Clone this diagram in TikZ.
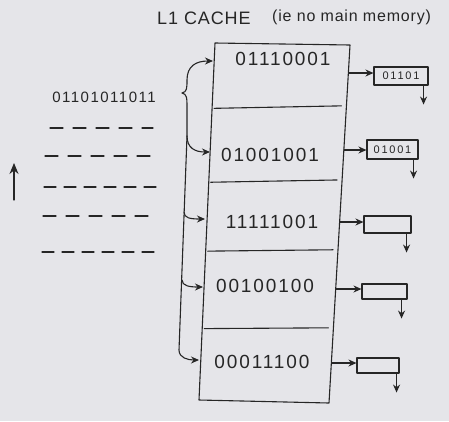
\documentclass[tikz,border=0pt]{standalone}
\usepackage{fontspec}
\setmainfont{Liberation Sans}
\newfontfamily\bits[LetterSpace=10]{Liberation Sans}
\newfontfamily\bitsw[LetterSpace=16]{Liberation Sans}
\newfontfamily\titlefont[LetterSpace=5]{Liberation Sans}
\usetikzlibrary{arrows.meta,calc}
\definecolor{paper}{HTML}{E5E5E9}
\definecolor{ink}{HTML}{262626}
\begin{document}
\begin{tikzpicture}[x=1pt,y=-1pt,
  pen/.style={draw=ink, line width=1.1pt, line cap=round, line join=round},
  tip/.style={-{Stealth[length=8pt,width=7pt]}},
  rowtext/.style={text=ink, inner sep=0pt, font=\bits\fontsize{19}{19}\selectfont},
  cell/.style={pen, rectangle, inner sep=0pt, text=ink, font=\bitsw\fontsize{11}{11}\selectfont},
  blank/.style={pen, dash pattern={on 13pt off 10pt}},
  blankb/.style={pen, dash pattern={on 12pt off 8pt}}]
% paper
\fill[paper] (0,0) rectangle (449,421);
\useasboundingbox (0,0) rectangle (449,421);

% title
\node[text=ink, anchor=west, inner sep=0pt, font=\titlefont\fontsize{18}{18}\selectfont] (title) at (157,18) {L1 CACHE};
\node[text=ink, anchor=west, inner sep=0pt, font=\titlefont\fontsize{16}{16}\selectfont] (note) at (272,17) {(ie no main memory)};

% left column: the value being looked up and the empty slots below it
\node[text=ink, inner sep=0pt, font=\bits\fontsize{15}{15}\selectfont] (word) at (104,97) {01101011011};
\draw[blank]  (50,128) -- (153,128);
\draw[blank]  (45,156) -- (152,156);
\draw[blankb] (44,187) -- (156,187);
\draw[blank]  (43,216) -- (152,216);
\draw[blankb] (42,252) -- (156,252);
\coordinate (up0) at (14,200);
\coordinate (up1) at (14,163);
\draw[pen, -{Stealth[length=11pt,width=9pt]}] (up0) -- (up1);

% cache block
\coordinate (TL) at (215,43);
\coordinate (TR) at (350,45);
\coordinate (BR) at (329,403);
\coordinate (BL) at (199,400);
\draw[pen] (TL) -- (TR) -- (BR) -- (BL) -- cycle;
\foreach \f/\g in {0.183/0.170, 0.39/0.377, 0.583/0.572, 0.80/0.79}
  \draw[pen] ($(TL)!\f!(BL)+(2,0)$) -- ($(TR)!\g!(BR)+(-5,0)$);

% cache lines
\node[rowtext] (r1) at (283,59) {01110001};
\node[rowtext] (r2) at (270,155) {01001001};
\node[rowtext] (r3) at (272,222) {11111001};
\node[rowtext] (r4) at (265,286) {00100100};
\node[rowtext] (r5) at (262,362) {00011100};

% fan-out from the brace to every line
\coordinate (a1) at (213,61);
\coordinate (a2) at (210,152);
\coordinate (a3) at (205,219);
\coordinate (a4) at (203,287);
\coordinate (a5) at (199,360);
\coordinate (brace) at (182,93);
\draw[pen, tip] (brace) .. controls (187,92) and (187,88) .. (187,80)
  .. controls (187,66) and (196,61) .. (a1);
\draw[pen, tip] (brace) .. controls (187,94) and (187,98) .. (187,108)
  -- (187,136) .. controls (187,148) and (195,152) .. (a2);
\draw[pen, tip] (187,136) -- (179,350) .. controls (179,358) and (188,360) .. (a5);
\draw[pen, tip] (184,212) .. controls (184,218) and (190,219) .. (a3);
\draw[pen, tip] (182,280) .. controls (182,286) and (190,287) .. (a4);

% outgoing pointers
\node[cell, minimum width=54pt, minimum height=18pt] (c1) at (401,76) {01101};
\node[cell, minimum width=51pt, minimum height=19pt] (c2) at (392.5,149.5) {01001};
\node[cell, minimum width=47pt, minimum height=17pt] (c3) at (387.5,224.5) {};
\node[cell, minimum width=45pt, minimum height=15pt] (c4) at (384.5,291.5) {};
\node[cell, minimum width=42pt, minimum height=15pt] (c5) at (378,365.5) {};
\coordinate (o1) at (349,73);
\coordinate (o2) at (344,150);
\coordinate (o3) at (340,222);
\coordinate (o4) at (336,289);
\coordinate (o5) at (332,363);
\draw[pen, tip] (o1) -- (c1.west |- o1);
\draw[pen, tip] (o2) -- (c2.west |- o2);
\draw[pen, tip] (o3) -- (c3.west |- o3);
\draw[pen, tip] (o4) -- (c4.west |- o4);
\draw[pen, tip] (o5) -- (c5.west |- o5);
\foreach \c/\d in {c1/5, c2/5, c3/5, c4/6, c5/3}
  \draw[pen, tip] ($(\c.south east)+(-\d,0)$) -- ++(0,19);
\end{tikzpicture}
\end{document}
